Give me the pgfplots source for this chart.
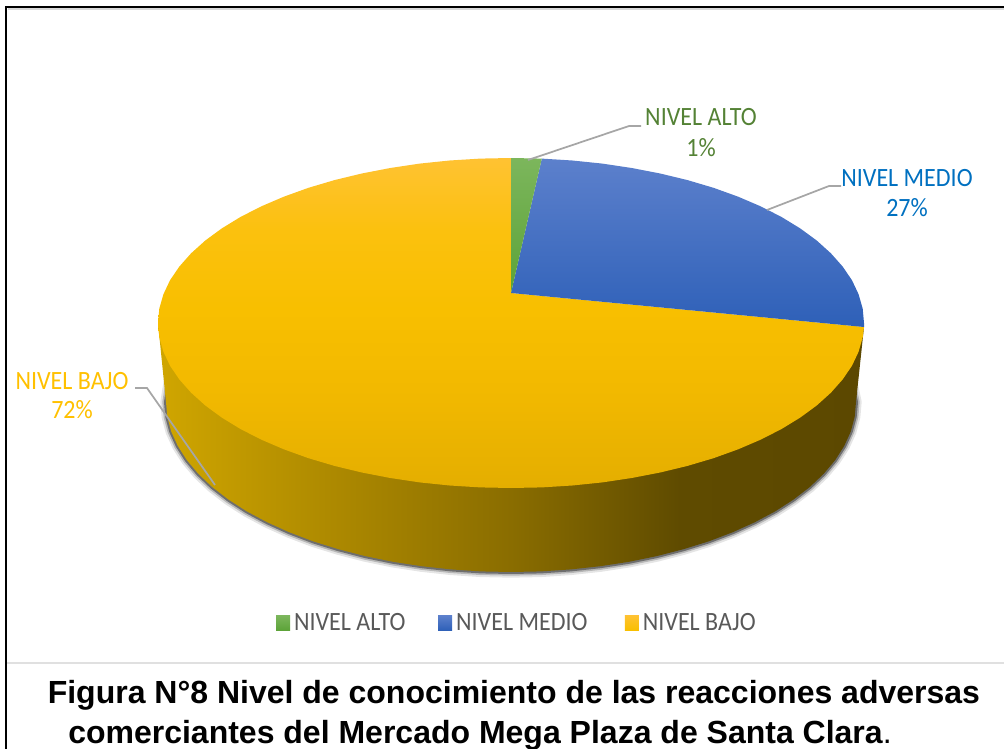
\documentclass[border=0pt]{standalone}
\usepackage{pgfplots}
\pgfplotsset{compat=1.18}
\usepackage{fontspec}
\setmainfont{Carlito}
\newfontfamily\arialf{Liberation Sans}
\definecolor{lblgreen}{HTML}{548235}
\definecolor{lblblue}{HTML}{0070C0}
\definecolor{lblyellow}{HTML}{FFC000}
\definecolor{leader}{HTML}{A6A6A6}
\definecolor{sa}{HTML}{D0A600}
\definecolor{sb}{HTML}{AE8A00}
\definecolor{sc}{HTML}{8A6D00}
\definecolor{sd}{HTML}{5F4B00}
\definecolor{se}{HTML}{5C4800}
\definecolor{yt}{HTML}{FFC232}
\definecolor{yu}{HTML}{FBC10E}
\definecolor{ym}{HTML}{F8BF00}
\definecolor{yl}{HTML}{F2B900}
\definecolor{yb}{HTML}{E4AE00}
\definecolor{bt}{HTML}{5C80CC}
\definecolor{bb}{HTML}{2E60B8}
\definecolor{gt}{HTML}{7CB65C}
\definecolor{gb}{HTML}{5CA338}
\definecolor{legtext}{HTML}{595959}
\pgfdeclarehorizontalshading{sideshade}{100bp}{
  color(0bp)=(sa); color(25bp)=(sa);
  color(37bp)=(sb);
  color(50bp)=(sc);
  color(62bp)=(sd);
  color(75bp)=(se);
  color(100bp)=(se)}
\pgfdeclareverticalshading{topshade}{100bp}{
  color(0bp)=(yb); color(25bp)=(yb);
  color(40bp)=(yl);
  color(52bp)=(ym);
  color(64bp)=(yu);
  color(75bp)=(yt);
  color(100bp)=(yt)}
\newcommand{\lab}[1]{\scalebox{1}[1.1]{#1}}
\begin{document}
\begin{tikzpicture}
\useasboundingbox (0,0) rectangle (753pt,561.75pt);
\begin{axis}[
  x=0.75pt,y=0.75pt,scale only axis,
  xmin=0,xmax=1004,ymin=0,ymax=749,y dir=reverse,
  hide axis,clip=false,
  legend columns=3,
  legend style={draw=none,fill=none,at={(axis cs:276,623)},anchor=west,
    font=\fontsize{18}{20}\selectfont\color{legtext},
    /tikz/every odd column/.style={column sep=1pt},
    /tikz/every even column/.style={column sep=0pt},
    inner sep=0pt,outer sep=0pt,
    cells={anchor=west}},
]
% frame
\addplot[draw=black!15,line width=1.5pt,forget plot] coordinates {(8,9.5) (1004,9.5)};
\addplot[draw=black,line width=1.5pt,forget plot] coordinates {(6,749) (6,7) (1004,7)};
\addplot[draw=black!12,line width=1.5pt,forget plot] coordinates {(7,663) (1004,663)};
% shadow of the disc
\addplot[draw=black,opacity=0.10,line width=8.5pt,line cap=butt,line join=round,forget plot] coordinates {
(172,365)(166,402)(167.3,416.8)(171.2,431.5)(177.8,446)(186.8,460.1)(198.3,473.8)(212.2,487)(228.4,499.5)(246.7,511.3)(267.1,522.2)(289.2,532.2)(313.1,541.3)(338.5,549.2)(365.2,556.1)(393,561.8)(421.7,566.2)(451.1,569.4)(480.9,571.4)(511,572)(541.1,571.4)(570.9,569.4)(600.3,566.2)(629,561.8)(656.8,556.1)(683.5,549.2)(708.9,541.3)(732.8,532.2)(754.9,522.2)(775.3,511.3)(793.6,499.5)(809.8,487)(823.7,473.8)(835.2,460.1)(844.2,446)(850.8,431.5)(854.7,416.8)(856,402)(848,365)};
\addplot[draw=black,opacity=0.2,line width=5.5pt,line cap=butt,line join=round,forget plot] coordinates {
(172,365)(166,402)(167.3,416.8)(171.2,431.5)(177.8,446)(186.8,460.1)(198.3,473.8)(212.2,487)(228.4,499.5)(246.7,511.3)(267.1,522.2)(289.2,532.2)(313.1,541.3)(338.5,549.2)(365.2,556.1)(393,561.8)(421.7,566.2)(451.1,569.4)(480.9,571.4)(511,572)(541.1,571.4)(570.9,569.4)(600.3,566.2)(629,561.8)(656.8,556.1)(683.5,549.2)(708.9,541.3)(732.8,532.2)(754.9,522.2)(775.3,511.3)(793.6,499.5)(809.8,487)(823.7,473.8)(835.2,460.1)(844.2,446)(850.8,431.5)(854.7,416.8)(856,402)(848,365)};
\addplot[draw=black,opacity=0.4,line width=3pt,line cap=butt,line join=round,forget plot] coordinates {
(172,365)(166,402)(167.3,416.8)(171.2,431.5)(177.8,446)(186.8,460.1)(198.3,473.8)(212.2,487)(228.4,499.5)(246.7,511.3)(267.1,522.2)(289.2,532.2)(313.1,541.3)(338.5,549.2)(365.2,556.1)(393,561.8)(421.7,566.2)(451.1,569.4)(480.9,571.4)(511,572)(541.1,571.4)(570.9,569.4)(600.3,566.2)(629,561.8)(656.8,556.1)(683.5,549.2)(708.9,541.3)(732.8,532.2)(754.9,522.2)(775.3,511.3)(793.6,499.5)(809.8,487)(823.7,473.8)(835.2,460.1)(844.2,446)(850.8,431.5)(854.7,416.8)(856,402)(848,365)};
% side of the disc
\addplot[shading=sideshade,draw=none,forget plot] coordinates {
(158,323)(166,402)(167.3,416.8)(171.2,431.5)(177.8,446)(186.8,460.1)(198.3,473.8)(212.2,487)(228.4,499.5)(246.7,511.3)(267.1,522.2)(289.2,532.2)(313.1,541.3)(338.5,549.2)(365.2,556.1)(393,561.8)(421.7,566.2)(451.1,569.4)(480.9,571.4)(511,572)(541.1,571.4)(570.9,569.4)(600.3,566.2)(629,561.8)(656.8,556.1)(683.5,549.2)(708.9,541.3)(732.8,532.2)(754.9,522.2)(775.3,511.3)(793.6,499.5)(809.8,487)(823.7,473.8)(835.2,460.1)(844.2,446)(850.8,431.5)(854.7,416.8)(856,402)(864,327)} --cycle;
% NIVEL BAJO 72
\addplot[draw=none,forget plot,shading=topshade] coordinates {
(511,293)(864,327)(862.7,337.4)(858.6,351.7)(852,365.7)(842.7,379.4)(830.9,392.7)(816.7,405.5)(800.2,417.6)(781.4,429.1)(760.6,439.7)(737.9,449.4)(713.5,458.2)(687.5,465.9)(660.2,472.5)(631.7,478)(602.4,482.4)(572.3,485.5)(541.8,487.4)(511,488)(480.2,487.4)(449.7,485.5)(419.6,482.4)(390.3,478)(361.8,472.5)(334.5,465.9)(308.5,458.2)(284.1,449.4)(261.4,439.7)(240.6,429.1)(221.8,417.6)(205.3,405.5)(191.1,392.7)(179.3,379.4)(170,365.7)(163.4,351.7)(159.3,337.4)(158,323)(159.3,308.6)(163.4,294.3)(170,280.3)(179.3,266.6)(191.1,253.3)(205.3,240.5)(221.8,228.4)(240.6,216.9)(261.4,206.3)(284.1,196.6)(308.5,187.8)(334.5,180.1)(361.8,173.5)(390.3,168)(419.6,163.6)(449.7,160.5)(480.2,158.6)(511,158)} --cycle;
% NIVEL MEDIO 27
\addplot[draw=none,forget plot,top color=bt,bottom color=bb] coordinates {
(511,293)(541.8,158.6)(572.3,160.5)(602.4,163.6)(631.7,168)(660.2,173.5)(687.5,180.1)(713.5,187.8)(737.9,196.6)(760.6,206.3)(781.4,216.9)(800.2,228.4)(816.7,240.5)(830.9,253.3)(842.7,266.6)(852,280.3)(858.6,294.3)(862.7,308.6)(864,323)(864,327)} --cycle;
% NIVEL ALTO 1
\addplot[draw=none,forget plot,top color=gt,bottom color=gb] coordinates {
(511,293)(511,158)(541.8,158.6)} --cycle;
% leader lines
\addplot[draw=leader,line width=1.3pt,forget plot] coordinates {(528,160)(629,126)(641,126)};
\addplot[draw=leader,line width=1.3pt,forget plot] coordinates {(767,210)(829,186)(841,186)};
\addplot[draw=leader,line width=1.3pt,forget plot] coordinates {(135,388)(147,388)(215,485)};
% legend
\addlegendimage{legend image code/.code={\shade[draw=none,top color=gt,bottom color=gb] (0pt,-5.5pt) rectangle (10.5pt,5.5pt);}}
\addlegendentry{\lab{NIVEL ALTO}\hspace*{22.5pt}}
\addlegendimage{legend image code/.code={\shade[draw=none,top color=bt,bottom color=bb] (0pt,-5.5pt) rectangle (10.5pt,5.5pt);}}
\addlegendentry{\lab{NIVEL MEDIO}\hspace*{26pt}}
\addlegendimage{legend image code/.code={\shade[draw=none,top color=yt,bottom color=ym] (0pt,-5.5pt) rectangle (10.5pt,5.5pt);}}
\addlegendentry{\lab{NIVEL BAJO}}
% data labels
\node[anchor=base,text=lblgreen,font=\fontsize{18}{20}\selectfont] at (axis cs:701,126) {\lab{NIVEL ALTO}};
\node[anchor=base,text=lblgreen,font=\fontsize{18}{20}\selectfont] at (axis cs:701,156.5) {\lab{1\%}};
\node[anchor=base,text=lblblue,font=\fontsize{18}{20}\selectfont] at (axis cs:907,186.5) {\lab{NIVEL MEDIO}};
\node[anchor=base,text=lblblue,font=\fontsize{18}{20}\selectfont] at (axis cs:907,216) {\lab{27\%}};
\node[anchor=base,text=lblyellow,font=\fontsize{18}{20}\selectfont] at (axis cs:72,389) {\lab{NIVEL BAJO}};
\node[anchor=base,text=lblyellow,font=\fontsize{18}{20}\selectfont] at (axis cs:72,418.5) {\lab{72\%}};
% caption
\node[anchor=base west,inner sep=0pt,font=\arialf\bfseries\fontsize{24}{26}\selectfont] at (axis cs:47.5,703) {Figura N°8 Nivel de conocimiento de las reacciones adversas};
\node[anchor=base west,inner sep=0pt,font=\arialf\fontsize{24}{26}\selectfont] at (axis cs:68,743) {\textbf{comerciantes del Mercado Mega Plaza de Santa Clara}.};
\end{axis}
\end{tikzpicture}
\end{document}
